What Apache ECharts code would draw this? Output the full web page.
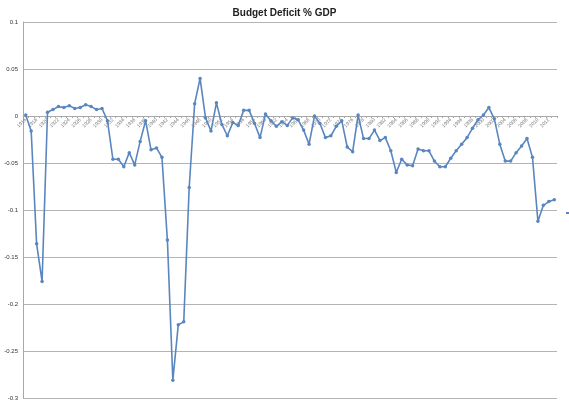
<!DOCTYPE html>
<html>
<head>
<meta charset="utf-8">
<script src="https://cdn.jsdelivr.net/npm/echarts@6/dist/echarts.min.js"></script>
<style>html,body{margin:0;padding:0;background:#fff;}#chart{width:569px;height:404px;}</style>
</head>
<body>
<div id="chart"></div>
<script>
var years = ['1916','1917','1918','1919','1920','1921','1922','1923','1924','1925','1926','1927','1928','1929','1930','1931','1932','1933','1934','1935','1936','1937','1938','1939','1940','1941','1942','1943','1944','1945','1946','1947','1948','1949','1950','1951','1952','1953','1954','1955','1956','1957','1958','1959','1960','1961','1962','1963','1964','1965','1966','1967','1968','1969','1970','1971','1972','1973','1974','1975','1976','1977','1978','1979','1980','1981','1982','1983','1984','1985','1986','1987','1988','1989','1990','1991','1992','1993','1994','1995','1996','1997','1998','1999','2000','2001','2002','2003','2004','2005','2006','2007','2008','2009','2010','2011','2012','2013'];
var deficit = [0.001,-0.016,-0.136,-0.176,0.004,0.007,0.010,0.009,0.011,0.008,0.009,0.012,0.010,0.007,0.008,-0.005,-0.046,-0.046,-0.054,-0.039,-0.052,-0.027,-0.005,-0.036,-0.034,-0.044,-0.132,-0.281,-0.222,-0.219,-0.076,0.013,0.040,-0.002,-0.016,0.014,-0.009,-0.021,-0.007,-0.010,0.006,0.006,-0.008,-0.023,0.002,-0.005,-0.011,-0.006,-0.010,-0.002,-0.004,-0.015,-0.030,0.000,-0.008,-0.023,-0.021,-0.011,-0.005,-0.033,-0.038,0.001,-0.024,-0.024,-0.015,-0.026,-0.023,-0.037,-0.060,-0.046,-0.052,-0.053,-0.035,-0.037,-0.037,-0.048,-0.054,-0.054,-0.045,-0.037,-0.030,-0.023,-0.013,-0.004,0.001,0.009,-0.003,-0.030,-0.048,-0.048,-0.039,-0.032,-0.024,-0.044,-0.112,-0.095,-0.091,-0.089];
var yMin = -0.3, yMax = 0.1, yStep = 0.05;
var titleText = 'Budget Deficit % GDP';
var seriesName = 'Series1';

var W = 569, H = 404;
var gridTop = 22, gridBottom = 6, gridLeft = 23, gridRight = 12;
var plotH = H - gridTop - gridBottom;
// move the category axis (with its labels) up to the zero line
var zeroOffset = -plotH * (0 - yMin) / (yMax - yMin);

var chart = echarts.init(document.getElementById('chart'));
chart.setOption({
  animation: false,
  title: {
    text: titleText, left: 'center', top: 3,
    textStyle: {fontFamily: 'Liberation Sans', fontSize: 10, fontWeight: 'bold', color: '#222'}
  },
  legend: {
    data: [seriesName], left: 560, top: 204, itemWidth: 14, itemHeight: 6,
    textStyle: {fontSize: 8, color: '#333'}
  },
  grid: {left: gridLeft, right: gridRight, top: gridTop, bottom: gridBottom, containLabel: false},
  xAxis: {
    type: 'category', data: years, boundaryGap: true, offset: zeroOffset,
    axisLine: {onZero: false, lineStyle: {color: '#a8a8a8', width: 1}},
    axisTick: {show: true, interval: 0, length: 2, lineStyle: {color: '#a8a8a8'}},
    axisLabel: {interval: 1, rotate: 45, fontSize: 5, color: '#777', margin: 3, fontFamily: 'Liberation Sans'},
    splitLine: {show: false}
  },
  yAxis: {
    type: 'value', min: yMin, max: yMax, interval: yStep,
    axisLine: {show: true, lineStyle: {color: '#a8a8a8'}},
    axisTick: {show: false},
    axisLabel: {fontSize: 6, color: '#333', margin: 5, fontFamily: 'Liberation Sans'},
    splitLine: {show: true, lineStyle: {color: '#b4b4b4', width: 1}}
  },
  series: [{
    name: seriesName, type: 'line', data: deficit,
    symbol: 'circle', symbolSize: 3.5,
    lineStyle: {color: '#5a86bf', width: 1.6},
    itemStyle: {color: '#5a86bf'}
  }]
});
</script>
</body>
</html>
